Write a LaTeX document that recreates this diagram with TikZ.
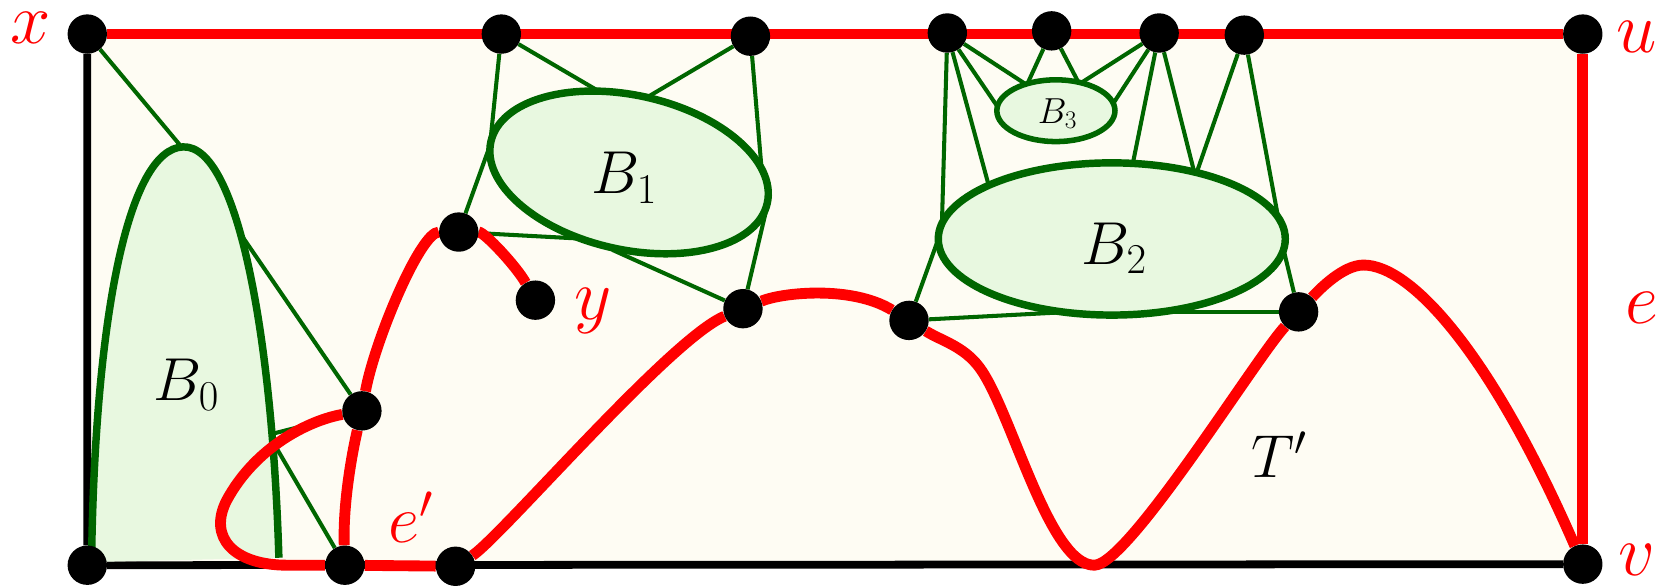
\RequirePackage{fix-cm}
\documentclass[tikz,border=0pt]{standalone}
\usetikzlibrary{shapes.geometric}
\definecolor{gdark}{RGB}{0,102,0}
\definecolor{glight}{RGB}{232,248,224}
\definecolor{cream}{RGB}{254,252,243}
\pgfdeclarelayer{bg}
\pgfdeclarelayer{mid}
\pgfsetlayers{bg,mid,main}
\begin{document}
\begin{tikzpicture}[x=1pt,y=-1pt,
  dot/.style={circle,fill=black,inner sep=0pt,minimum size=37pt},
  gline/.style={draw=gdark,line width=3.8pt,shorten >=-8pt},
  rline/.style={draw=red,line width=10.2pt},
  bline/.style={draw=black,line width=7.3pt},
  blob/.style={ellipse,draw=gdark,fill=glight,inner sep=0pt,line width=7pt},
  rlab/.style={text=red,inner sep=0pt,font=\fontsize{68}{78}\selectfont},
  blab/.style={text=black,inner sep=0pt,font=\fontsize{57}{66}\selectfont}]
\useasboundingbox (0,0) rectangle (1568,551);

% vertices
\node[dot] (x)  at (82,32) {};
\node[dot] (t1) at (471,32) {};
\node[dot] (t2) at (705,34) {};
\node[dot] (t3) at (890,31) {};
\node[dot] (t4) at (988,29) {};
\node[dot] (t5) at (1089,31) {};
\node[dot] (t6) at (1169,33) {};
\node[dot] (u)  at (1487,32) {};
\node[dot] (v)  at (1487,530) {};
\node[dot] (bl) at (82,531) {};
\node[dot] (b2) at (324,531) {};
\node[dot] (b3) at (428,532) {};
\node[dot] (m1) at (340,386) {};
\node[dot] (a)  at (431,218) {};
\node[dot] (yv) at (503,282) {};
\node[dot] (c1) at (698,290) {};
\node[dot] (c2) at (854,301) {};
\node[dot] (c3) at (1220,293) {};

% blobs
\node[blob, minimum width=266pt, minimum height=145pt, rotate=-12.5] (B1) at (591,162) {};
\node[blob, minimum width=326pt, minimum height=143pt] (B2) at (1044.5,224.5) {};
\node[blob, line width=5.2pt, minimum width=111pt, minimum height=58pt] (B3) at (992,104) {};

% attachment points
\coordinate (h0) at (168,135);
\coordinate (h1) at (233,230);
\coordinate (h2) at (262,406);
\coordinate (h3) at (261,423);
\coordinate (p1) at (461.5,125);
\coordinate (p2) at (560.7,84.6);
\coordinate (p3) at (609,90.8);
\coordinate (p4) at (715,153);
\coordinate (p5) at (456.6,147);
\coordinate (p6) at (542,224);
\coordinate (p7) at (718.4,203.6);
\coordinate (p8) at (582.5,238);
\coordinate (q1) at (928,171);
\coordinate (q2) at (885,207);
\coordinate (q3) at (1065,150);
\coordinate (q4) at (1121,158);
\coordinate (q5) at (1125,160);
\coordinate (q6) at (1200,200);
\coordinate (q7) at (881,226);
\coordinate (q8) at (987,294);
\coordinate (q9) at (1206,235);
\coordinate (q10) at (1106,293);
\coordinate (r1) at (937,100);
\coordinate (r2) at (962,78);
\coordinate (r3) at (966,77);
\coordinate (r4) at (1013,77);
\coordinate (r5) at (1017,77);
\coordinate (r6) at (1046,97);

\begin{pgfonlayer}{bg}
\fill[cream] (82,32) rectangle (1487,531);
\draw[bline] (x) -- (bl) -- (v);
\draw[rline] (x) -- (u) -- (v);
% green edges
\draw[gline] (x) -- (h0);
\draw[gline] (m1) -- (h1);
\draw[gline] (m1) -- (h2);
\draw[gline] (b2) -- (h3);
\draw[gline] (t1) -- (p1);
\draw[gline] (t1) -- (p2);
\draw[gline] (t2) -- (p3);
\draw[gline] (t2) -- (p4);
\draw[gline] (a) -- (p5);
\draw[gline] (a) -- (p6);
\draw[gline] (c1) -- (p7);
\draw[gline] (c1) -- (p8);
\draw[gline] (t3) -- (q1);
\draw[gline] (t3) -- (q2);
\draw[gline] (t5) -- (q3);
\draw[gline] (t5) -- (q4);
\draw[gline] (t6) -- (q5);
\draw[gline] (t6) -- (q6);
\draw[gline] (c2) -- (q7);
\draw[gline] (c2) -- (q8);
\draw[gline] (c3) -- (q9);
\draw[gline] (c3) -- (q10);
\draw[gline] (t3) -- (r1);
\draw[gline] (t3) -- (r2);
\draw[gline] (t4) -- (r3);
\draw[gline] (t4) -- (r4);
\draw[gline] (t5) -- (r5);
\draw[gline] (t5) -- (r6);
% B0
\fill[glight] (86,528) .. controls (89,300) and (120,140) .. (172,138)
  .. controls (224,136) and (256,320) .. (262,524) -- cycle;
\draw[gdark, line width=7pt] (86,528) .. controls (89,300) and (120,140) .. (172,138)
  .. controls (224,136) and (256,320) .. (262,524);
\end{pgfonlayer}

\begin{pgfonlayer}{mid}
\draw[rline] (b2) .. controls (322,470) and (332,420) .. (m1)
  .. controls (352,320) and (395,218) .. (a)
  .. controls (455,218) and (485,250) .. (yv);
\draw[rline] (m1) .. controls (290,395) and (240,420) .. (213,470)
  .. controls (195,505) and (220,531) .. (270,531) -- (b2) -- (b3);
\draw[rline] (b3) .. controls (470,505) and (630,318) .. (c1)
  .. controls (735,274.8) and (800,268) .. (c2)
  .. controls (884,320) and (905,325) .. (920,345)
  .. controls (950,385) and (985,531) .. (1028,531)
  .. controls (1060,531) and (1180,336) .. (c3)
  .. controls (1240,271.4) and (1262,249) .. (1281,249)
  .. controls (1325,249) and (1400,330) .. (v);
\end{pgfonlayer}

% labels
\node[blab] (lB0) at (175,361.5) {$B_0$};
\node[blab] (lB1) at (586.5,167) {$B_1$};
\node[blab] (lB2) at (1046.6,233) {$B_2$};
\node[blab, font=\fontsize{34}{40}\selectfont] (lB3) at (993.5,106.5) {$B_3$};
\node[blab] (lT) at (1202,427.5) {$T'$};
\node[rlab] (lx) at (28.4,26) {$x$};
\node[rlab] (lu) at (1538,35) {$u$};
\node[rlab] (le) at (1543,289) {$e$};
\node[rlab] (lv) at (1538,526) {$v$};
\node[rlab] (ly) at (557,292) {$y$};
\node[rlab, font=\fontsize{64}{74}\selectfont] (lep) at (386,486) {$e'$};
\end{tikzpicture}
\end{document}
